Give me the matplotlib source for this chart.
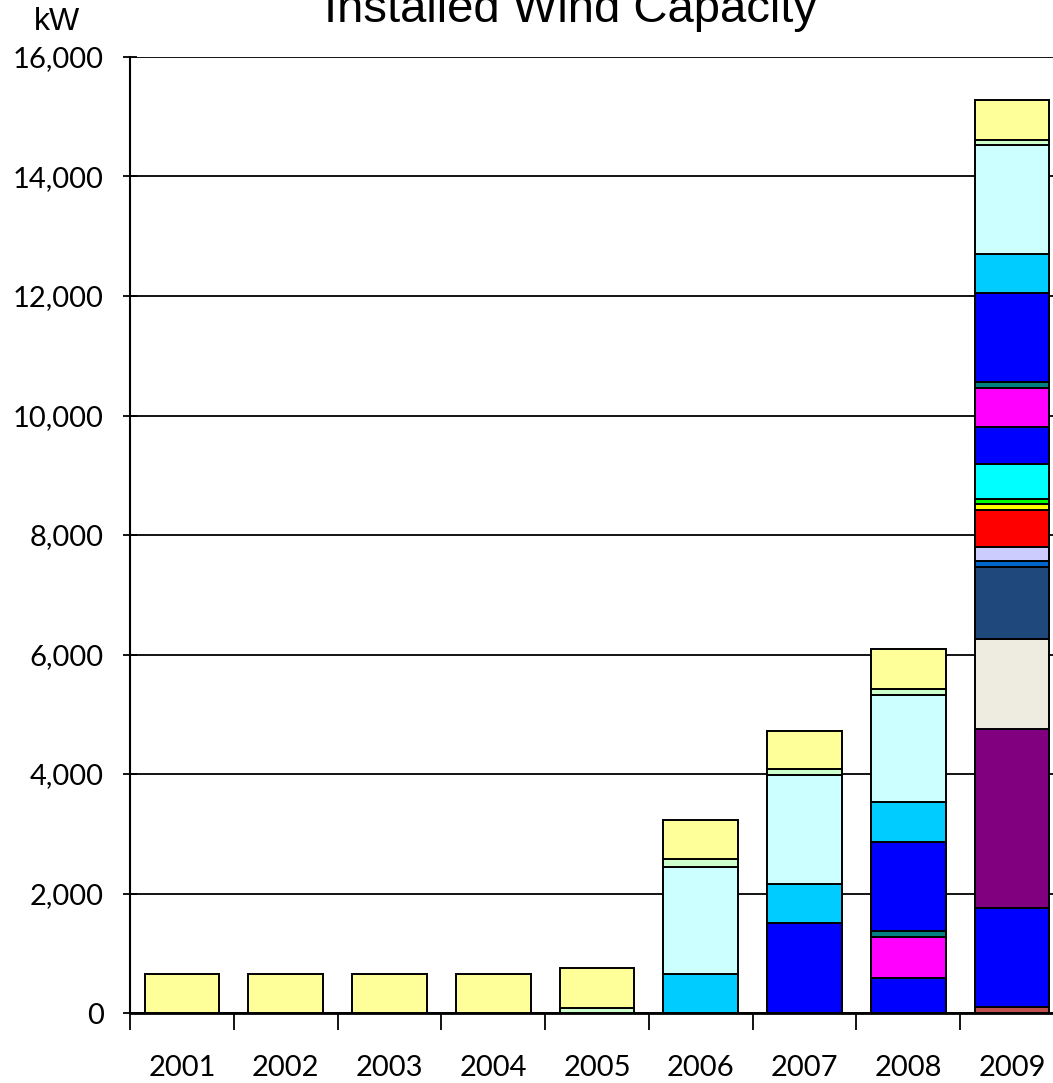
import numpy as np
import matplotlib
matplotlib.use("Agg")
import matplotlib.pyplot as plt
from matplotlib.ticker import FuncFormatter, MultipleLocator

years = ["2001", "2002", "2003", "2004", "2005", "2006", "2007", "2008", "2009"]

# installed capacity per site (kW), stacked bottom -> top
brown      = [0, 0, 0, 0, 0, 0, 0, 0, 100]
blue_a     = [0, 0, 0, 0, 0, 0, 0, 0, 1660]
purple     = [0, 0, 0, 0, 0, 0, 0, 0, 3000]
beige      = [0, 0, 0, 0, 0, 0, 0, 0, 1500]
navy       = [0, 0, 0, 0, 0, 0, 0, 0, 1210]
medblue    = [0, 0, 0, 0, 0, 0, 0, 0, 100]
lavender   = [0, 0, 0, 0, 0, 0, 0, 0, 235]
red        = [0, 0, 0, 0, 0, 0, 0, 0, 610]
yellow_b   = [0, 0, 0, 0, 0, 0, 0, 0, 100]
green      = [0, 0, 0, 0, 0, 0, 0, 0, 95]
cyan       = [0, 0, 0, 0, 0, 0, 0, 0, 585]
blue_b     = [0, 0, 0, 0, 0, 0, 0, 580, 610]
magenta    = [0, 0, 0, 0, 0, 0, 0, 700, 660]
teal       = [0, 0, 0, 0, 0, 0, 0, 95, 95]
blue_c     = [0, 0, 0, 0, 0, 0, 1500, 1495, 1495]
deepsky    = [0, 0, 0, 0, 0, 655, 655, 655, 645]
lightcyan  = [0, 0, 0, 0, 0, 1795, 1825, 1790, 1820]
lightgreen = [0, 0, 0, 0, 90, 125, 100, 100, 95]
yellow     = [660, 660, 660, 660, 660, 655, 645, 680, 660]

series = [brown, blue_a, purple, beige, navy, medblue, lavender, red, yellow_b,
          green, cyan, blue_b, magenta, teal, blue_c, deepsky, lightcyan,
          lightgreen, yellow]
colors = ["#C0504D", "#0000FF", "#800080", "#EEECE1", "#1F497D", "#0066CC",
          "#CCCCFF", "#FF0000", "#FFFF00", "#00FF00", "#00FFFF", "#0000FF",
          "#FF00FF", "#008080", "#0000FF", "#00CCFF", "#CCFFFF", "#CCFFCC",
          "#FFFF99"]

fig = plt.figure(figsize=(10.53, 10.83), dpi=100)
ax = fig.add_axes([130/1053, 70/1083, 934/1053, 956/1083])

x = np.arange(len(years))
bottom = np.zeros(len(years))
for vals, col in zip(series, colors):
    v = np.array(vals, dtype=float)
    m = v > 0
    ax.bar(x[m], v[m], 0.72, bottom=bottom[m], color=col, edgecolor="black",
           linewidth=1.4, zorder=3)
    bottom += v

ax.set_xlim(-0.5, len(years) - 0.5)
ax.set_ylim(0, 16000)
ax.yaxis.set_major_locator(MultipleLocator(2000))
ax.yaxis.set_major_formatter(FuncFormatter(lambda v, p: f"{int(v):,}"))
ax.grid(axis="y", color="black", linewidth=1.3, zorder=1)

ax.set_xticks(x)
ax.set_xticklabels(years)
ax.set_xticks(np.arange(len(years)) - 0.5, minor=True)
ax.tick_params(axis="x", which="major", length=0, pad=30)
ax.tick_params(axis="x", which="minor", length=12, width=1.3, direction="out")
ax.tick_params(axis="y", length=10, width=1.3, direction="inout", pad=14)

for lab in ax.get_xticklabels() + ax.get_yticklabels():
    lab.set_family("Lato")
    lab.set_fontsize(21)

for s in ["top", "right"]:
    ax.spines[s].set_visible(False)
ax.spines["left"].set_linewidth(1.5)
ax.spines["bottom"].set_linewidth(2)

fig.text(571/1053, 1 - 22/1083, "Installed Wind Capacity", ha="center",
         va="baseline", fontsize=34, family="Liberation Sans")
fig.text(57/1053, 1 - 30/1083, "kW", ha="center", va="baseline",
         fontsize=23, family="Liberation Sans")

fig.savefig("out.png", dpi=100)
